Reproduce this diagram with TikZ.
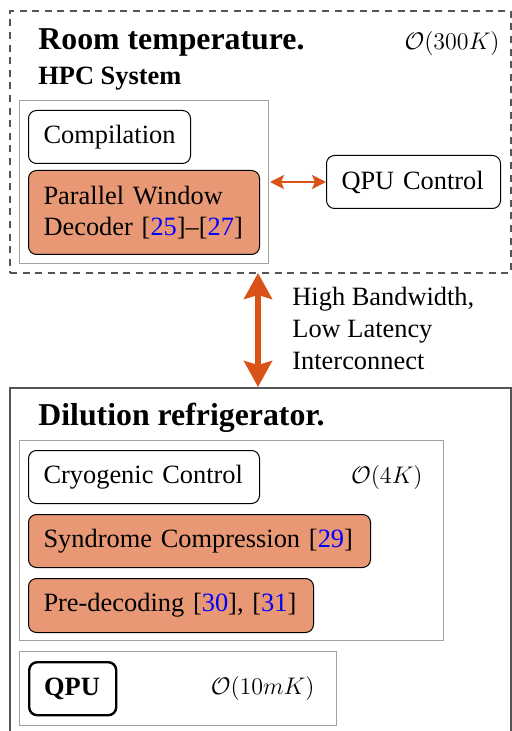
\documentclass[tikz,border=0pt]{standalone}
\usepackage{fontspec}
\setmainfont{Liberation Serif}
\usetikzlibrary{arrows.meta}
\definecolor{myorange}{rgb}{0.85,0.325,0.098}
\definecolor{edgegray}{RGB}{85,85,85}
\definecolor{boxgray}{RGB}{160,160,160}
\newcommand{\myref}[1]{[\textcolor{blue}{#1}]}
\begin{document}
\begin{tikzpicture}[x=0.5pt,y=-0.5pt,
  every node/.style={font=\fontsize{13.2}{15.8}\selectfont},
  blk/.style={draw=black, rounded corners=4pt, line width=0.5pt, anchor=north west, inner xsep=7.5pt, inner ysep=0pt, align=left, minimum height=26.5pt},
  hot/.style={blk, fill=myorange!60},
  grp/.style={draw=boxgray, line width=0.6pt, anchor=north west, inner sep=0pt},
  ttl/.style={anchor=base west, font=\fontsize{15.9}{19}\selectfont\bfseries, inner sep=0pt},
  tmp/.style={anchor=base east, inner sep=0pt}
]
\useasboundingbox (0,0) rectangle (511,731);
% room temperature
\node[draw=edgegray, dash pattern=on 3.5pt off 2.8pt, line width=0.9pt, anchor=north west, inner sep=0pt, minimum width=250.5pt, minimum height=131pt] (room) at (9,10) {};
\node[ttl] (roomt) at (38,50) {Room temperature.};
\node[tmp] (t300) at (500,50) {$\mathcal{O}(300K)$};
\node[anchor=base west, inner sep=0pt, font=\fontsize{13.2}{15.8}\selectfont\bfseries] (hpct) at (38,85) {HPC System};
\node[grp, minimum width=124.5pt, minimum height=81.5pt] (hpc) at (19,100) {};
\node[blk, minimum width=81pt, text width=66pt] (comp) at (28,110) {Compilation};
\node[hot, minimum width=115.5pt, text width=100.5pt, minimum height=42pt] (pwd) at (28,170) {Parallel Window\\Decoder \myref{25}–\myref{27}};
\node[blk, minimum width=87pt, text width=72pt] (qpuc) at (326,155) {QPU Control};
\coordinate (hpce) at (270,182);
\draw[myorange, line width=1.1pt, {Stealth[length=7pt,width=7pt,inset=1.5pt]}-{Stealth[length=7pt,width=7pt,inset=1.5pt]}] (hpce) -- (qpuc.west);
% interconnect
\node[draw=edgegray, line width=0.9pt, anchor=north west, inner sep=0pt, minimum width=250.5pt, minimum height=180pt] (dil) at (9,387) {};
\coordinate (roombot) at (258,273);
\coordinate (diltop) at (258,387);
\draw[myorange, line width=2.6pt, {Stealth[length=13pt,width=14pt,inset=2pt]}-{Stealth[length=13pt,width=14pt,inset=2pt]}] (roombot) -- (diltop);
\node[anchor=north west, inner sep=0pt, align=left, font=\fontsize{13.2}{16}\selectfont] (ict) at (292,287) {High Bandwidth,\\Low Latency\\Interconnect};
% dilution
\node[ttl] (dilt) at (38,425) {Dilution refrigerator.};
\node[grp, minimum width=212pt, minimum height=100pt] (k4) at (19,440) {};
\node[blk, minimum width=115.5pt, text width=100.5pt] (cryo) at (28,450) {Cryogenic Control};
\node[tmp] (t4) at (423,483) {$\mathcal{O}(4K)$};
\node[hot, minimum width=171pt, text width=156pt] (synd) at (28,514) {Syndrome Compression \myref{29}};
\node[hot, minimum width=142.5pt, text width=127.5pt, minimum height=27pt] (pre) at (28,578) {Pre-decoding \myref{30}, \myref{31}};
\node[grp, minimum width=158.5pt, minimum height=37pt] (mk) at (19,651) {};
\node[blk, line width=1.2pt, minimum width=43.5pt, text width=28.5pt, font=\fontsize{13.2}{15.8}\selectfont\bfseries] (qpu) at (28,661) {QPU};
\node[tmp] (t10) at (315,694) {$\mathcal{O}(10mK)$};
\end{tikzpicture}
\end{document}
